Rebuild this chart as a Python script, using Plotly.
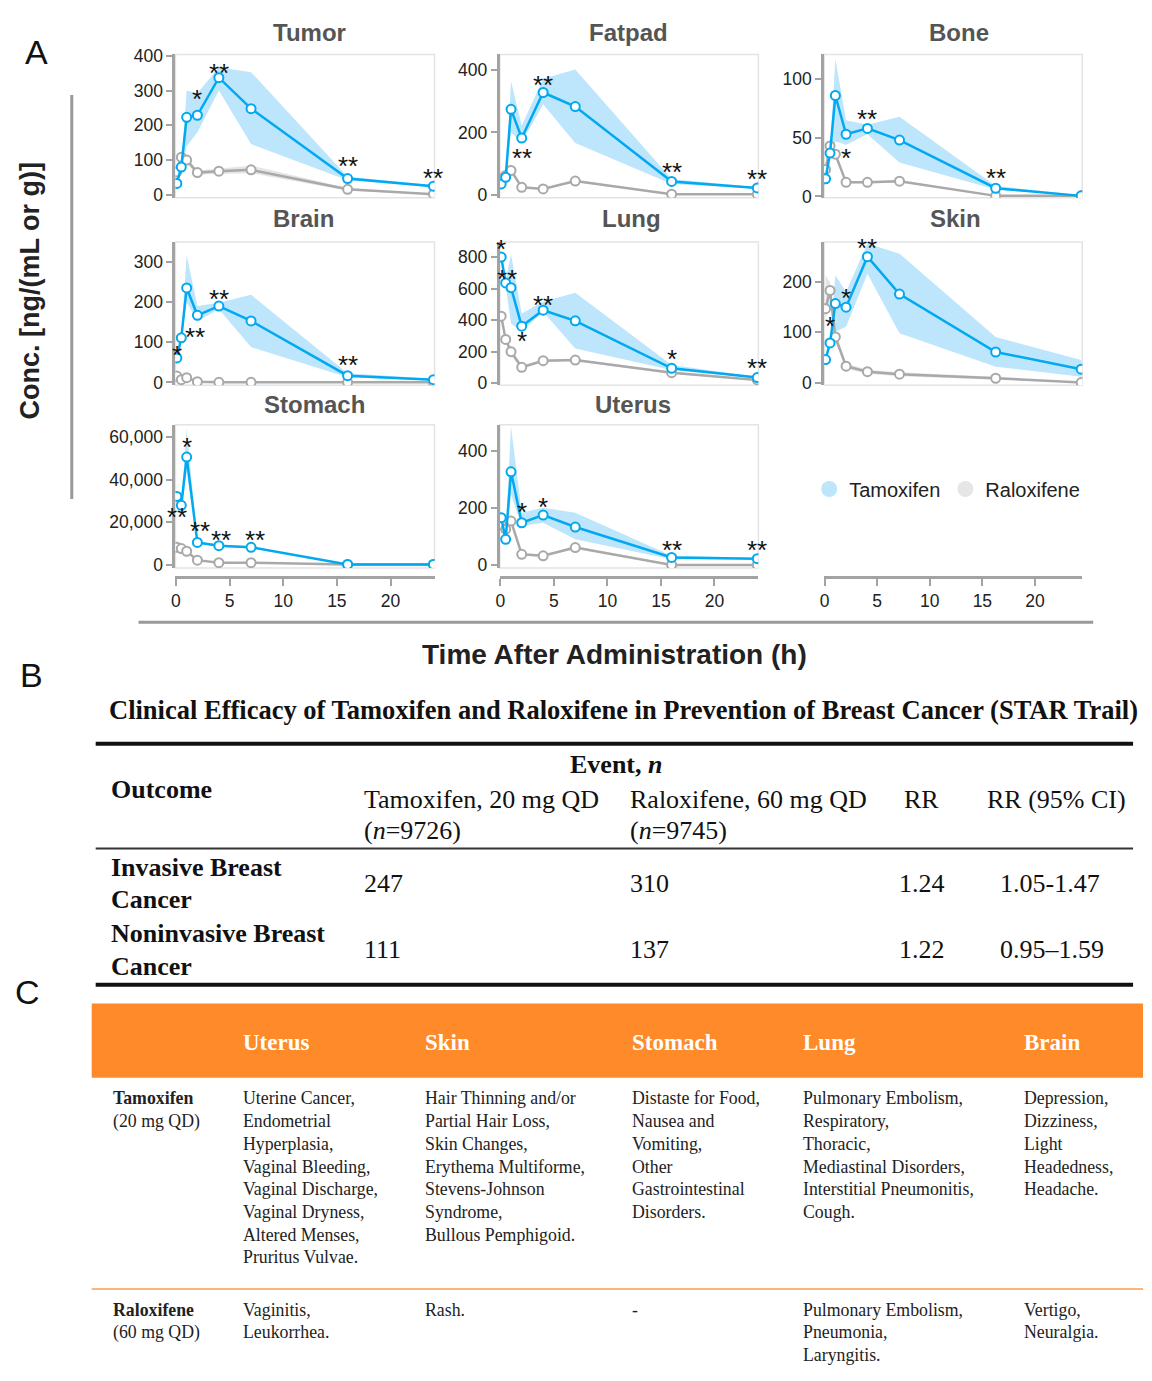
import plotly.graph_objects as go

W, H = 1152, 1381

# ---------------- data (panel A) ----------------
time_h = [0.083, 0.5, 1, 2, 4, 7, 16, 24]
tissues = ["Tumor", "Fatpad", "Bone", "Brain", "Lung", "Skin", "Stomach", "Uterus"]

tumor_tam = [33, 80, 223, 229, 337, 248, 47, 25]
tumor_tam_lo = [31, 76, 140, 180, 300, 146, 42, 22]
tumor_tam_hi = [35, 84, 300, 292, 367, 353, 52, 28]
tumor_ral = [66, 108, 100, 64, 68, 72, 16, 2]
tumor_ral_lo = [60, 98, 90, 58, 60, 62, 12, 1]
tumor_ral_hi = [72, 118, 110, 70, 76, 84, 20, 3]

fatpad_tam = [35, 56, 274, 182, 328, 283, 43, 22]
fatpad_tam_lo = [33, 53, 200, 168, 290, 166, 35, 20]
fatpad_tam_hi = [37, 59, 365, 221, 372, 402, 51, 24]
fatpad_ral = [51, 62, 78, 24, 19, 44, 2, 2]
fatpad_ral_lo = [47, 58, 72, 21, 16, 40, 1, 1]
fatpad_ral_hi = [55, 66, 84, 27, 22, 48, 3, 3]

bone_tam = [15, 37, 86, 53, 58, 48, 7, 0.5]
bone_tam_lo = [14, 35, 47, 44, 53, 29, 6, 0]
bone_tam_hi = [16, 39, 117, 65, 61, 68, 9, 1]
bone_ral = [23, 43, 36, 12, 12, 13, 0.5, 0.5]
bone_ral_lo = [21, 40, 33, 11, 11, 12, 0, 0]
bone_ral_hi = [25, 46, 39, 13, 13, 14, 1, 1]

brain_tam = [61, 111, 235, 167, 190, 153, 17, 7]
brain_tam_lo = [58, 106, 200, 153, 182, 88, 13, 5]
brain_tam_hi = [64, 116, 316, 190, 198, 218, 23, 9]
brain_ral = [16, 7, 12, 2, 0.5, 0.5, 0.5, 0.5]
brain_ral_lo = [14, 6, 10, 1, 0, 0, 0, 0]
brain_ral_hi = [18, 8, 14, 3, 1, 1, 1, 1]

lung_tam = [800, 636, 606, 362, 463, 396, 95, 36]
lung_tam_lo = [790, 620, 379, 326, 453, 221, 84, 32]
lung_tam_hi = [810, 650, 817, 442, 516, 573, 116, 40]
lung_ral = [425, 278, 200, 101, 143, 147, 67, 21]
lung_ral_lo = [400, 265, 175, 92, 136, 140, 60, 17]
lung_ral_hi = [450, 291, 225, 110, 150, 154, 74, 25]

skin_tam = [46, 79, 157, 150, 250, 176, 61, 27]
skin_tam_lo = [44, 76, 101, 111, 216, 98, 32, 12]
skin_tam_hi = [48, 82, 213, 180, 276, 256, 91, 45]
skin_ral = [147, 183, 91, 33, 22, 17, 9, 0.5]
skin_ral_lo = [125, 160, 82, 28, 18, 13, 6, 0]
skin_ral_hi = [213, 200, 100, 38, 26, 21, 12, 1]

stomach_tam = [32150, 28000, 50600, 10600, 9080, 8300, 300, 300]
stomach_tam_lo = [31000, 26500, 44000, 10000, 8600, 7900, 250, 250]
stomach_tam_hi = [33300, 29500, 64000, 11200, 9560, 8700, 350, 350]
stomach_ral = [8300, 7700, 6460, 2300, 1080, 1080, 300, 300]
stomach_ral_lo = [7900, 7300, 6100, 2100, 950, 950, 250, 250]
stomach_ral_hi = [8700, 8100, 6800, 2500, 1200, 1200, 350, 350]

uterus_tam = [167, 91, 328, 149, 176, 134, 27, 23]
uterus_tam_lo = [160, 70, 248, 138, 149, 91, 21, 20]
uterus_tam_hi = [174, 110, 487, 184, 202, 184, 33, 26]
uterus_ral = [143, 126, 155, 38, 33, 62, 1, 1]
uterus_ral_lo = [136, 118, 146, 34, 29, 57, 0, 0]
uterus_ral_hi = [150, 134, 164, 42, 37, 67, 2, 2]

# significance marks: (time, label, y value of mark)
tumor_stars = [(2, "*", 292), (4, "**", 369), (16, "**", 99), (24, "**", 66)]
fatpad_stars = [(2, "**", 138), (4, "**", 370), (16, "**", 94), (24, "**", 70)]
bone_stars = [(2, "*", 38), (4, "**", 71), (16, "**", 21)]
brain_stars = [(0.083, "*", 84), (1.8, "**", 129), (4, "**", 222), (16, "**", 59)]
lung_stars = [(0.083, "*", 888), (0.6, "**", 699), (2, "*", 305), (4, "**", 537), (16, "*", 189), (24, "**", 137)]
skin_stars = [(0.5, "*", 124), (2, "*", 180), (4, "**", 279)]
stomach_stars = [(0.1, "**", 25400), (1, "*", 58000), (2.2, "**", 18770), (4.2, "**", 14460), (7.4, "**", 14460)]
uterus_stars = [(2, "*", 207), (4, "*", 225), (16, "**", 73), (24, "**", 73)]

x_ticks = [0, 5, 10, 15, 20]

# ---------------- data (panel B) ----------------
b_title = "Clinical Efficacy of Tamoxifen and Raloxifene in Prevention of Breast Cancer (STAR Trail)"
b_outcomes = [["Invasive Breast", "Cancer"], ["Noninvasive Breast", "Cancer"]]
b_tam_events = ["247", "111"]
b_ral_events = ["310", "137"]
b_rr = ["1.24", "1.22"]
b_ci = ["1.05-1.47", "0.95\u20131.59"]

# ---------------- data (panel C) ----------------
c_organs = ["Uterus", "Skin", "Stomach", "Lung", "Brain"]
c_tam = [
    ["Uterine Cancer,", "Endometrial", "Hyperplasia,", "Vaginal Bleeding,", "Vaginal Discharge,",
     "Vaginal Dryness,", "Altered Menses,", "Pruritus Vulvae."],
    ["Hair Thinning and/or", "Partial Hair Loss,", "Skin Changes,", "Erythema Multiforme,",
     "Stevens-Johnson", "Syndrome,", "Bullous Pemphigoid."],
    ["Distaste for Food,", "Nausea and", "Vomiting,", "Other", "Gastrointestinal", "Disorders."],
    ["Pulmonary Embolism,", "Respiratory,", "Thoracic,", "Mediastinal Disorders,",
     "Interstitial Pneumonitis,", "Cough."],
    ["Depression,", "Dizziness,", "Light", "Headedness,", "Headache."],
]
c_ral = [
    ["Vaginitis,", "Leukorrhea."],
    ["Rash."],
    ["-"],
    ["Pulmonary Embolism,", "Pneumonia,", "Laryngitis."],
    ["Vertigo,", "Neuralgia."],
]

# ---------------- helpers ----------------
def px(x):
    return x / W

def py(y):
    return 1 - y / H

BLUE = "#00a9f0"
GRAY = "#a9a9a9"
BLUE_BAND = "rgba(90,190,245,0.40)"
GRAY_BAND = "rgba(180,180,180,0.35)"
AXC = "#a3a3a3"
SANS = "Liberation Sans, Arial, sans-serif"
SERIF = "Liberation Serif, Times New Roman, serif"

panels = [
    ("Tumor", tumor_tam, tumor_tam_lo, tumor_tam_hi, tumor_ral, tumor_ral_lo, tumor_ral_hi, tumor_stars),
    ("Fatpad", fatpad_tam, fatpad_tam_lo, fatpad_tam_hi, fatpad_ral, fatpad_ral_lo, fatpad_ral_hi, fatpad_stars),
    ("Bone", bone_tam, bone_tam_lo, bone_tam_hi, bone_ral, bone_ral_lo, bone_ral_hi, bone_stars),
    ("Brain", brain_tam, brain_tam_lo, brain_tam_hi, brain_ral, brain_ral_lo, brain_ral_hi, brain_stars),
    ("Lung", lung_tam, lung_tam_lo, lung_tam_hi, lung_ral, lung_ral_lo, lung_ral_hi, lung_stars),
    ("Skin", skin_tam, skin_tam_lo, skin_tam_hi, skin_ral, skin_ral_lo, skin_ral_hi, skin_stars),
    ("Stomach", stomach_tam, stomach_tam_lo, stomach_tam_hi, stomach_ral, stomach_ral_lo, stomach_ral_hi, stomach_stars),
    ("Uterus", uterus_tam, uterus_tam_lo, uterus_tam_hi, uterus_ral, uterus_ral_lo, uterus_ral_hi, uterus_stars),
]

col_x = [(172, 432), (497.5, 757), (823, 1082)]
row_y = [(47, 192), (237, 382), (422, 567)]
y_ranges = [[-8, 404], [-9, 450], [-1, 121], [-7, 349], [-13, 895], [-5, 279], [-1400, 65700], [-10, 493]]
y_dticks = [100, 200, 50, 100, 200, 100, 20000, 200]
title_pos = [(307, 25), (627, 25), (958, 25), (301, 213), (630, 213), (955, 213), (312, 401), (631, 401)]
x_axis_y = 576

fig = go.Figure()
layout = dict(
    width=W, height=H, margin=dict(l=0, r=0, t=0, b=0),
    paper_bgcolor="white", plot_bgcolor="white",
    font=dict(family=SANS, color="#222"),
)
annotations = []
shapes = []

for i in range(9):
    n = i + 1
    xs = "x" if n == 1 else f"x{n}"
    ys = "y" if n == 1 else f"y{n}"
    xk = "xaxis" if n == 1 else f"xaxis{n}"
    yk = "yaxis" if n == 1 else f"yaxis{n}"
    r, c = divmod(i, 3)
    x0, x1 = col_x[c]
    y0, y1 = row_y[r]
    xa = dict(domain=[px(x0), px(x1)], range=[-0.05, 24.1], showgrid=False, zeroline=False,
              fixedrange=True)
    if r == 2:
        xa.update(anchor="free", position=py(x_axis_y), showline=True, linecolor=AXC, linewidth=3,
                  ticks="outside", ticklen=7, tickwidth=2, tickcolor=AXC, tickvals=x_ticks,
                  tickfont=dict(size=17.5, color="#222"), range=[-0.05, 24.5] if c == 2 else [-0.05, 24.1])
    else:
        xa.update(anchor=ys, showline=False, showticklabels=False, ticks="")
    layout[xk] = xa
    if i < 8:
        ya = dict(domain=[py(y1), py(y0)], anchor=xs, range=y_ranges[i], dtick=y_dticks[i],
                  showgrid=False, zeroline=False, showline=True, linecolor=AXC, linewidth=3,
                  ticks="outside", ticklen=6, tickwidth=2, tickcolor=AXC,
                  tickfont=dict(size=17.5, color="#222"), tickformat=",d", fixedrange=True)
        layout[yk] = ya
        name, tam, tlo, thi, ral, rlo, rhi, stars = panels[i]
        fig.add_trace(go.Scatter(x=time_h + time_h[::-1], y=thi + tlo[::-1], fill="toself",
                                 fillcolor=BLUE_BAND, line=dict(width=0), mode="lines",
                                 hoverinfo="skip", showlegend=False, xaxis=xs, yaxis=ys))
        fig.add_trace(go.Scatter(x=time_h + time_h[::-1], y=rhi + rlo[::-1], fill="toself",
                                 fillcolor=GRAY_BAND, line=dict(width=0), mode="lines",
                                 hoverinfo="skip", showlegend=False, xaxis=xs, yaxis=ys))
        fig.add_trace(go.Scatter(x=time_h, y=ral, mode="lines+markers", name="Raloxifene",
                                 line=dict(color=GRAY, width=2.5),
                                 marker=dict(symbol="circle", size=9, color="white",
                                             line=dict(color=GRAY, width=2)),
                                 showlegend=False, xaxis=xs, yaxis=ys))
        fig.add_trace(go.Scatter(x=time_h, y=tam, mode="lines+markers", name="Tamoxifen",
                                 line=dict(color=BLUE, width=2.5),
                                 marker=dict(symbol="circle", size=9, color="white",
                                             line=dict(color=BLUE, width=2)),
                                 showlegend=False, xaxis=xs, yaxis=ys))
        shapes.append(dict(type="rect", xref=f"{xs} domain", yref=f"{ys} domain", x0=0, x1=1, y0=0, y1=1,
                           line=dict(color="#e4e4e4", width=1.5), layer="below"))
        tx, ty = title_pos[i]
        annotations.append(dict(text=f"<b>{name}</b>", x=px(tx), y=py(ty), xref="paper", yref="paper",
                                showarrow=False, xanchor="center", yanchor="middle",
                                font=dict(size=24, color="#555", family=SANS)))
        for (st, lab, sy) in stars:
            annotations.append(dict(text=lab, x=st, y=sy, xref=xs, yref=ys, showarrow=False,
                                    xanchor="center", yanchor="middle", yshift=-6,
                                    font=dict(size=26, color="#111", family=SANS)))
    else:
        layout[yk] = dict(domain=[py(y1), py(y0)], anchor=xs, visible=False, range=[0, 1], fixedrange=True)
        fig.add_trace(go.Scatter(x=[0, 24], y=[0, 0], mode="markers", marker=dict(opacity=0),
                                 hoverinfo="skip", showlegend=False, xaxis=xs, yaxis=ys))

fig.add_trace(go.Scatter(x=[None], y=[None], mode="markers", name="Tamoxifen",
                         marker=dict(size=24, color="#bde6fb")))
fig.add_trace(go.Scatter(x=[None], y=[None], mode="markers", name="Raloxifene",
                         marker=dict(size=24, color="#e6e6e6")))
layout["legend"] = dict(x=px(808), y=py(487), xanchor="left", yanchor="middle", orientation="h",
                        font=dict(size=20, color="#222", family=SANS), bgcolor="rgba(0,0,0,0)",
                        itemsizing="trace", tracegroupgap=0)

annotations.append(dict(text="<b>Conc. [ng/(mL or g)]</b>", x=px(27), y=py(286), xref="paper", yref="paper",
                        showarrow=False, textangle=-90, xanchor="center", yanchor="middle",
                        font=dict(size=27, color="#222", family=SANS)))
shapes.append(dict(type="line", xref="paper", yref="paper", x0=px(68), x1=px(68), y0=py(88), y1=py(497),
                   line=dict(color="#999", width=3)))
annotations.append(dict(text="<b>Time After Administration (h)</b>", x=px(613), y=py(655), xref="paper",
                        yref="paper", showarrow=False, xanchor="center", yanchor="middle",
                        font=dict(size=28, color="#222", family=SANS)))
shapes.append(dict(type="line", xref="paper", yref="paper", x0=px(135), x1=px(1093), y0=py(622), y1=py(622),
                   line=dict(color="#999", width=3)))

for lab, lx, ly in [("A", 33, 45), ("B", 28, 675), ("C", 24, 996)]:
    annotations.append(dict(text=lab, x=px(lx), y=py(ly), xref="paper", yref="paper", showarrow=False,
                            xanchor="center", yanchor="middle", font=dict(size=34, color="#111", family=SANS)))

def txt(s, x, y, size=26, anchor="left", color="#111", family=SERIF):
    annotations.append(dict(text=s, x=px(x), y=py(y), xref="paper", yref="paper", showarrow=False,
                            xanchor=anchor, yanchor="middle", font=dict(size=size, color=color, family=family)))

txt(f"<b>{b_title}</b>", 622, 711, size=26.5, anchor="center")
shapes.append(dict(type="line", xref="paper", yref="paper", x0=px(92), x1=px(1133), y0=py(745), y1=py(745),
                   line=dict(color="#111", width=4)))
shapes.append(dict(type="line", xref="paper", yref="paper", x0=px(92), x1=px(1133), y0=py(851), y1=py(851),
                   line=dict(color="#333", width=2)))
shapes.append(dict(type="line", xref="paper", yref="paper", x0=px(92), x1=px(1133), y0=py(989), y1=py(989),
                   line=dict(color="#111", width=4)))
txt("<b>Outcome</b>", 105, 791)
txt("<b>Event, <i>n</i></b>", 614, 766, anchor="center")
txt("Tamoxifen, 20 mg QD", 359, 801)
txt("(<i>n</i>=9726)", 359, 833)
txt("Raloxifene, 60 mg QD", 626, 801)
txt("(<i>n</i>=9745)", 626, 833)
txt("RR", 901, 801)
txt("RR (95% CI)", 984, 801)
row_c = [886, 953]
for k in range(2):
    cy = row_c[k]
    txt(f"<b>{b_outcomes[k][0]}</b>", 105, cy - 16)
    txt(f"<b>{b_outcomes[k][1]}</b>", 105, cy + 17)
    txt(b_tam_events[k], 359, cy)
    txt(b_ral_events[k], 626, cy)
    txt(b_rr[k], 896, cy)
    txt(b_ci[k], 997, cy)

shapes.append(dict(type="rect", xref="paper", yref="paper", x0=px(88), x1=px(1143), y0=py(1083), y1=py(1008),
                   fillcolor="#ff8a2a", line=dict(width=0), layer="below"))
shapes.append(dict(type="line", xref="paper", yref="paper", x0=px(88), x1=px(1143), y0=py(1297), y1=py(1297),
                   line=dict(color="#ffb47a", width=2)))
c_x = [238, 420, 628, 800, 1022]
for k, org in enumerate(c_organs):
    txt(f"<b>{org}</b>", c_x[k], 1047, size=23, color="white")
line_h = 23
BODY = 17.8
txt("<b>Tamoxifen</b>", 107, 1104, size=BODY, color="#222")
txt("(20 mg QD)", 107, 1127, size=BODY, color="#222")
txt("<b>Raloxifene</b>", 107, 1318, size=BODY, color="#222")
txt("(60 mg QD)", 107, 1341, size=BODY, color="#222")
for k in range(5):
    for j, s in enumerate(c_tam[k]):
        txt(s, c_x[k], 1104 + j * line_h, size=BODY, color="#222")
    for j, s in enumerate(c_ral[k]):
        txt(s, c_x[k], 1318 + j * line_h, size=BODY, color="#222")

layout["annotations"] = annotations
layout["shapes"] = shapes
fig.update_layout(**layout)
fig.write_html("out.html", config={"displayModeBar": False},
               post_script="document.body.style.margin='0';document.body.style.padding='0';"
                           "document.body.style.overflow='hidden';")
